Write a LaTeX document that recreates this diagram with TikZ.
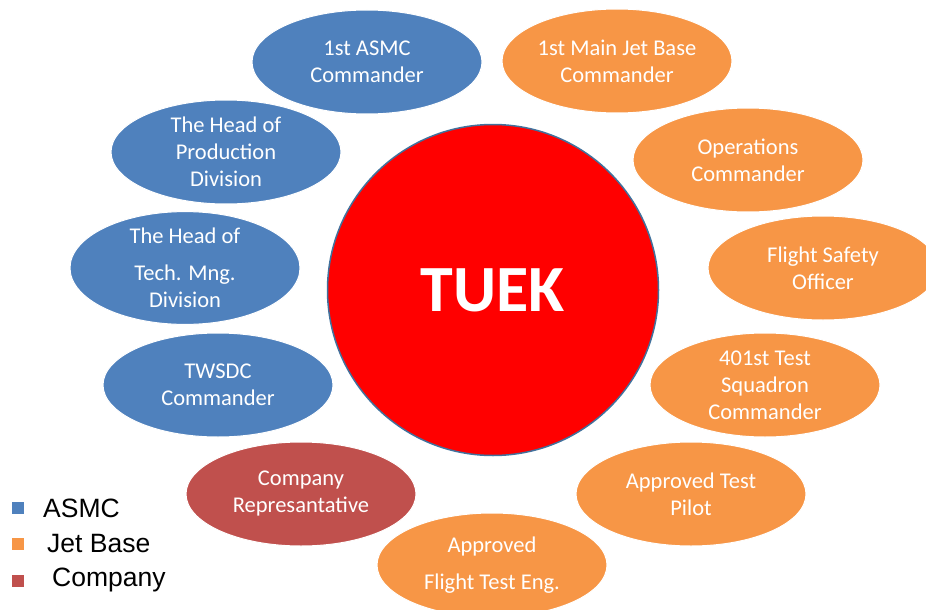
\documentclass[tikz,border=0pt]{standalone}
\usepackage{fontspec}
\setmainfont{Carlito}
\newfontfamily\legendfont{Liberation Sans}
\usetikzlibrary{shapes.geometric}
\definecolor{asmcblue}{RGB}{79,129,189}
\definecolor{basecolor}{RGB}{247,150,70}
\definecolor{firmred}{RGB}{192,80,77}
\definecolor{rimblue}{RGB}{65,113,156}

\begin{document}
\begin{tikzpicture}[x=1pt, y=-1pt,
    member/.style={ellipse, draw=white, line width=1pt, text=white,
        minimum width=230pt, minimum height=104pt, inner sep=0pt,
        align=center, font=\fontsize{22.5}{27}\selectfont},
    asmc/.style={member, fill=asmcblue},
    jetbase/.style={member, fill=basecolor},
    company/.style={member, fill=firmred},
    hub/.style={circle, draw=rimblue, line width=1.5pt, fill=red,
        text=white, minimum size=331pt, inner sep=0pt,
        font=\fontsize{66}{70}\selectfont\bfseries},
    key/.style={rectangle, minimum size=12pt, inner sep=0pt},
    keytext/.style={anchor=west, inner sep=0pt,
        font=\legendfont\fontsize{26.5}{30}\selectfont}
]
    \useasboundingbox (0,0) rectangle (926,610);
    \node[hub] (tuek) at (493,290) {TUEK};
    \node[asmc] (asmc1) at (367,62) {1st ASMC\\Commander};
    \node[asmc] (prod) at (226,152) {The Head of\\Production\\Division};
    \node[asmc] (tech) at (185,268) {The Head of\\[10pt]Tech. Mng.\\Division};
    \node[asmc] (twsdc) at (218,385) {TWSDC\\Commander};
    \node[company] (rep) at (301,494) {Company\\Represantative};
    \node[jetbase] (base1) at (617,61) {1st Main Jet Base\\Commander};
    \node[jetbase] (ops) at (748,160) {Operations\\Commander};
    \node[jetbase] (safety) at (823,268) {Flight Safety\\Officer};
    \node[jetbase] (sqn) at (765,385) {401st Test\\Squadron\\Commander};
    \node[jetbase] (pilot) at (691,494) {Approved Test\\Pilot};
    \node[jetbase] (eng) at (492,565) {Approved\\[10pt]Flight Test Eng.};
    \node[key, fill=asmcblue] (kasmc) at (18,508) {};
    \node[key, fill=basecolor] (kbase) at (18,544) {};
    \node[key, fill=firmred] (kfirm) at (18,581) {};
    \node[keytext] (tasmc) at (43,508) {ASMC};
    \node[keytext] (tbase) at (47,544) {Jet Base};
    \node[keytext] (tfirm) at (52,580) {Company};
\end{tikzpicture}
\end{document}
